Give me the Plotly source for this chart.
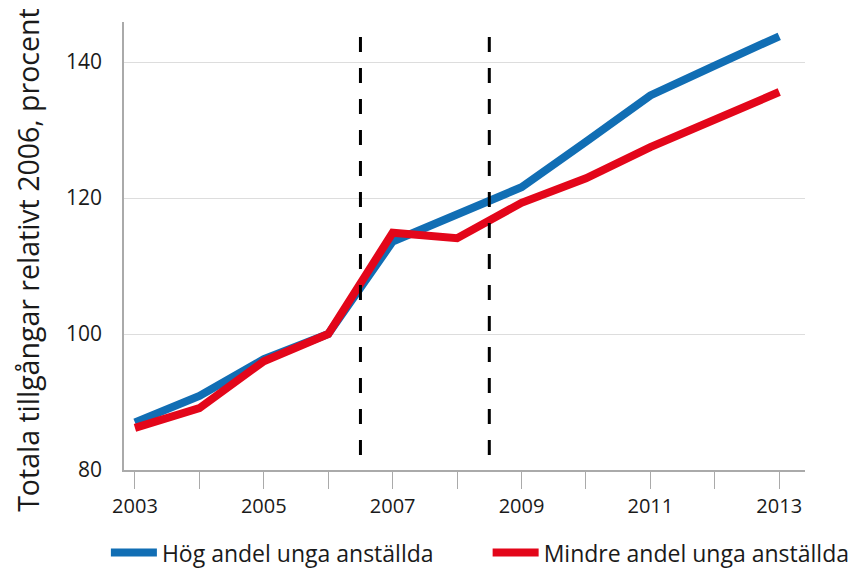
import plotly.graph_objects as go

# ── Data ──────────────────────────────────────────────────────────────────────
years = [2003, 2004, 2005, 2006, 2007, 2008, 2009, 2010, 2011, 2012, 2013]
hog_andel = [87.0, 90.9, 96.3, 100.0, 113.6, 117.5, 121.6, 128.3, 135.1, 139.5, 143.8]
mindre_andel = [86.2, 89.1, 96.0, 100.0, 114.9, 114.1, 119.3, 122.9, 127.5, 131.5, 135.6]

x_tick_labels = ["2003", "", "2005", "", "2007", "", "2009", "", "2011", "", "2013"]
y_ticks = [80, 100, 120, 140]
break_years = [2006.5, 2008.5]

BLUE = "#116eb4"
RED = "#e3061a"
FONT = "Open Sans, Noto Sans, sans-serif"

fig = go.Figure()

# each series gets its own one-item legend so the two entries can be placed freely
fig.add_trace(go.Scatter(
    x=years, y=hog_andel,
    mode="lines",
    line=dict(color=BLUE, width=8),
    name="Hög andel unga anställda",
    legend="legend",
))
fig.add_trace(go.Scatter(
    x=years, y=mindre_andel,
    mode="lines",
    line=dict(color=RED, width=8),
    name="Mindre andel unga anställda",
    legend="legend2",
))

# dashed vertical markers
for bx in break_years:
    fig.add_shape(
        type="line", xref="x", yref="y",
        x0=bx, x1=bx, y0=82.2, y1=145.9,
        line=dict(color="black", width=3, dash="15px,16px"),
    )

# y-axis title as annotation so it can sit a bit lower than the plot centre
fig.add_annotation(
    text="Totala tillgångar relativt 2006, procent",
    xref="paper", yref="paper",
    x=-0.141, y=0.469,
    textangle=-90, showarrow=False,
    xanchor="center", yanchor="middle",
    font=dict(size=28.5),
)

legend_style = dict(
    orientation="h",
    xref="container", yref="container",
    xanchor="left",
    y=0.027, yanchor="middle",
    font=dict(size=23),
    itemwidth=46,
    bgcolor="rgba(0,0,0,0)",
)

fig.update_layout(
    width=854, height=568,
    margin=dict(l=124, r=49, t=22, b=98),
    plot_bgcolor="white",
    paper_bgcolor="white",
    font=dict(family=FONT, color="#1a1a1a", size=20),
    showlegend=True,
    legend=dict(x=0.124, **legend_style),
    legend2=dict(x=0.571, **legend_style),
)

fig.update_xaxes(
    range=[2002.83, 2013.4],
    tickvals=years,
    ticktext=x_tick_labels,
    ticks="outside", ticklen=17, tickcolor="#aaaaaa", tickwidth=1,
    showline=True, linecolor="#aaaaaa", linewidth=1.5,
    showgrid=False, zeroline=False,
    tickfont=dict(size=20),
    automargin=False,
)
fig.update_yaxes(
    range=[80, 145.9],
    tickvals=y_ticks,
    showline=True, linecolor="#aaaaaa", linewidth=1.5,
    showgrid=True, gridcolor="#dddddd", gridwidth=1.2,
    zeroline=False,
    ticks="", ticklabelstandoff=16,
    tickfont=dict(size=21),
    automargin=False,
)

fig.write_html(
    "out.html",
    config={"displayModeBar": False},
    post_script="document.body.style.margin='0';",
)
